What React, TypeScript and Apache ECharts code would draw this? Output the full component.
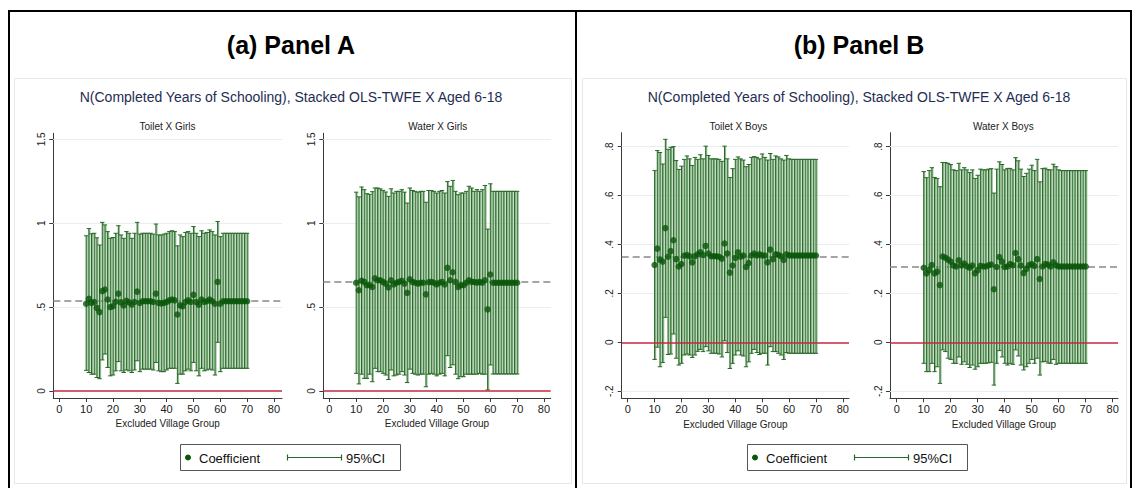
import React, { useEffect, useRef } from "react";
import * as echarts from "echarts";

// ---------------- DATA ----------------
const villageGroups = [
  10, 11, 12, 13, 14, 15, 16, 17, 18, 19, 20, 21, 22, 23, 24, 25, 26, 27, 28, 29,
  30, 31, 32, 33, 34, 35, 36, 37, 38, 39, 40, 41, 42, 43, 44, 45, 46, 47, 48, 49,
  50, 51, 52, 53, 54, 55, 56, 57, 58, 59, 60, 61, 62, 63, 64, 65, 66, 67, 68, 69, 70,
];
const xTickValues = [0, 10, 20, 30, 40, 50, 60, 70, 80];
const girlsYTicks = [0, 0.5, 1, 1.5];
const boysYTicks = [-0.2, 0, 0.2, 0.4, 0.6, 0.8];

// Panel A - Toilet X Girls
const toiletGirlsCoef = [
  0.52, 0.55, 0.525, 0.53, 0.495, 0.47, 0.595, 0.605, 0.545, 0.5, 0.505, 0.532, 0.58, 0.528, 0.51, 0.537, 0.528, 0.515, 0.53, 0.592,
  0.524, 0.535, 0.535, 0.535, 0.535, 0.53, 0.58, 0.525, 0.522, 0.525, 0.53, 0.54, 0.545, 0.54, 0.456, 0.51, 0.505, 0.53, 0.54, 0.53,
  0.573, 0.53, 0.515, 0.545, 0.53, 0.535, 0.545, 0.535, 0.52, 0.65, 0.52, 0.535, 0.535, 0.535, 0.535, 0.535, 0.535, 0.535, 0.535, 0.535, 0.535,
];
const toiletGirlsUpper = [
  0.925, 0.968, 0.937, 0.94, 0.913, 0.87, 1.005, 0.99, 0.95, 0.91, 0.915, 0.94, 0.985, 0.93, 0.91, 0.95, 0.94, 0.91, 0.94, 1.005,
  0.935, 0.94, 0.94, 0.94, 0.94, 0.935, 0.995, 0.93, 0.93, 0.935, 0.94, 0.95, 0.955, 0.95, 0.865, 0.93, 0.92, 0.945, 0.95, 0.94,
  0.98, 0.94, 0.92, 0.955, 0.94, 0.945, 0.96, 0.95, 0.93, 1.01, 0.92, 0.94, 0.94, 0.94, 0.94, 0.94, 0.94, 0.94, 0.94, 0.94, 0.94,
];
const toiletGirlsLower = [
  0.123, 0.11, 0.1, 0.1, 0.08, 0.073, 0.185, 0.22, 0.14, 0.09, 0.095, 0.12, 0.175, 0.12, 0.11, 0.125, 0.12, 0.11, 0.125, 0.18,
  0.115, 0.13, 0.13, 0.13, 0.13, 0.125, 0.17, 0.12, 0.115, 0.115, 0.125, 0.135, 0.135, 0.135, 0.045, 0.1, 0.1, 0.12, 0.13, 0.12,
  0.17, 0.12, 0.09, 0.135, 0.12, 0.125, 0.13, 0.125, 0.095, 0.29, 0.115, 0.135, 0.135, 0.135, 0.135, 0.135, 0.135, 0.135, 0.135, 0.135, 0.135,
];
const toiletGirlsMean = 0.535;

// Panel A - Water X Girls
const waterGirlsCoef = [
  0.645, 0.6, 0.657, 0.65, 0.63, 0.63, 0.62, 0.672, 0.66, 0.66, 0.65, 0.64, 0.617, 0.66, 0.635, 0.645, 0.65, 0.657, 0.64, 0.585,
  0.666, 0.65, 0.645, 0.64, 0.645, 0.645, 0.576, 0.648, 0.65, 0.645, 0.635, 0.645, 0.65, 0.635, 0.734, 0.66, 0.708, 0.65, 0.62, 0.63,
  0.63, 0.645, 0.66, 0.65, 0.65, 0.645, 0.65, 0.645, 0.66, 0.486, 0.694, 0.645, 0.645, 0.645, 0.645, 0.645, 0.645, 0.645, 0.645, 0.645, 0.645,
];
const waterGirlsUpper = [
  1.185, 1.157, 1.216, 1.2, 1.176, 1.172, 1.188, 1.21, 1.21, 1.205, 1.196, 1.186, 1.16, 1.205, 1.18, 1.19, 1.19, 1.2, 1.185, 1.12,
  1.21, 1.195, 1.19, 1.185, 1.19, 1.19, 1.125, 1.195, 1.195, 1.19, 1.18, 1.19, 1.195, 1.18, 1.248, 1.22, 1.255, 1.19, 1.17, 1.18,
  1.18, 1.19, 1.22, 1.21, 1.19, 1.2, 1.19, 1.2, 1.225, 0.965, 1.235, 1.19, 1.19, 1.19, 1.19, 1.19, 1.19, 1.19, 1.19, 1.19, 1.19,
];
const waterGirlsLower = [
  0.105, 0.042, 0.1, 0.075, 0.075, 0.1, 0.055, 0.135, 0.115, 0.115, 0.105, 0.095, 0.068, 0.125, 0.09, 0.095, 0.1, 0.115, 0.095, 0.05,
  0.13, 0.105, 0.1, 0.095, 0.1, 0.1, 0.025, 0.1, 0.105, 0.1, 0.09, 0.1, 0.105, 0.09, 0.21, 0.14, 0.156, 0.1, 0.073, 0.085,
  0.085, 0.1, 0.1, 0.1, 0.1, 0.1, 0.105, 0.1, 0.1, 0.006, 0.155, 0.101, 0.101, 0.101, 0.101, 0.101, 0.101, 0.101, 0.101, 0.101, 0.101,
];
const waterGirlsMean = 0.645;

// Panel B - Toilet X Boys
const toiletBoysCoef = [
  0.316, 0.383, 0.338, 0.33, 0.467, 0.35, 0.373, 0.417, 0.34, 0.31, 0.32, 0.354, 0.357, 0.352, 0.327, 0.352, 0.36, 0.368, 0.357, 0.394,
  0.363, 0.352, 0.352, 0.352, 0.35, 0.342, 0.404, 0.363, 0.285, 0.314, 0.345, 0.368, 0.35, 0.355, 0.308, 0.324, 0.355, 0.363, 0.355, 0.36,
  0.355, 0.355, 0.327, 0.379, 0.34, 0.36, 0.358, 0.352, 0.337, 0.36, 0.355, 0.355, 0.355, 0.355, 0.355, 0.355, 0.355, 0.355, 0.355, 0.355, 0.355,
];
const toiletBoysUpper = [
  0.702, 0.784, 0.776, 0.729, 0.83, 0.789, 0.797, 0.8, 0.743, 0.707, 0.72, 0.748, 0.762, 0.75, 0.723, 0.756, 0.748, 0.767, 0.75, 0.802,
  0.764, 0.75, 0.75, 0.75, 0.748, 0.74, 0.802, 0.75, 0.674, 0.71, 0.748, 0.758, 0.75, 0.745, 0.718, 0.727, 0.756, 0.759, 0.756, 0.75,
  0.77, 0.756, 0.745, 0.772, 0.748, 0.762, 0.758, 0.75, 0.745, 0.764, 0.75, 0.748, 0.748, 0.748, 0.748, 0.748, 0.748, 0.748, 0.748, 0.748, 0.748,
];
const toiletBoysLower = [
  -0.07, -0.02, -0.1, -0.083, 0.102, -0.05, -0.048, 0.034, -0.065, -0.093, -0.086, -0.052, -0.048, -0.052, -0.062, -0.052, -0.037, -0.029, -0.038, -0.018,
  -0.035, -0.045, -0.045, -0.045, -0.048, -0.06, 0.006, -0.042, -0.107, -0.086, -0.052, -0.035, -0.052, -0.056, -0.1, -0.08, -0.045, -0.029, -0.042, -0.05,
  -0.045, -0.045, -0.093, -0.018, -0.038, -0.038, -0.045, -0.052, -0.07, -0.042, -0.045, -0.045, -0.045, -0.045, -0.045, -0.045, -0.045, -0.045, -0.045, -0.045, -0.045,
];
const toiletBoysMean = 0.355;

// Panel B - Water X Boys
const waterBoysCoef = [
  0.305, 0.282, 0.295, 0.316, 0.282, 0.289, 0.234, 0.351, 0.346, 0.338, 0.33, 0.314, 0.31, 0.335, 0.314, 0.322, 0.311, 0.305, 0.314, 0.282,
  0.295, 0.313, 0.31, 0.31, 0.315, 0.318, 0.217, 0.308, 0.349, 0.33, 0.308, 0.31, 0.32, 0.315, 0.365, 0.34, 0.314, 0.283, 0.3, 0.315,
  0.32, 0.312, 0.34, 0.259, 0.31, 0.32, 0.318, 0.31, 0.327, 0.315, 0.31, 0.31, 0.31, 0.31, 0.31, 0.31, 0.31, 0.31, 0.31, 0.31, 0.31,
];
const waterBoysUpper = [
  0.698, 0.673, 0.702, 0.714, 0.674, 0.67, 0.636, 0.735, 0.735, 0.732, 0.727, 0.705, 0.702, 0.732, 0.705, 0.714, 0.705, 0.694, 0.705, 0.67,
  0.683, 0.708, 0.705, 0.705, 0.708, 0.71, 0.61, 0.708, 0.738, 0.727, 0.705, 0.711, 0.711, 0.705, 0.755, 0.742, 0.708, 0.678, 0.691, 0.708,
  0.724, 0.702, 0.748, 0.656, 0.71, 0.712, 0.706, 0.705, 0.728, 0.718, 0.705, 0.702, 0.702, 0.702, 0.702, 0.702, 0.702, 0.702, 0.702, 0.702, 0.702,
];
const waterBoysLower = [
  -0.086, -0.12, -0.12, -0.086, -0.12, -0.1, -0.168, -0.031, -0.038, -0.065, -0.07, -0.086, -0.086, -0.06, -0.09, -0.08, -0.09, -0.103, -0.093, -0.11,
  -0.1, -0.086, -0.086, -0.086, -0.084, -0.082, -0.175, -0.086, -0.034, -0.06, -0.086, -0.093, -0.086, -0.09, -0.031, -0.056, -0.093, -0.113, -0.1, -0.086,
  -0.07, -0.086, -0.065, -0.134, -0.08, -0.078, -0.085, -0.086, -0.07, -0.09, -0.086, -0.086, -0.086, -0.086, -0.086, -0.086, -0.086, -0.086, -0.086, -0.086, -0.086,
];
const waterBoysMean = 0.31;

const panelTitles = ["(a) Panel A", "(b) Panel B"];
const subTitle = "N(Completed Years of Schooling), Stacked OLS-TWFE X Aged 6-18";
const subplotTitles = ["Toilet X Girls", "Water X Girls", "Toilet X Boys", "Water X Boys"];
const xAxisTitle = "Excluded Village Group";
const legendLabels = ["Coefficient", "95%CI"];

// ---------------- LAYOUT / STYLE ----------------
const FONT = '"Liberation Sans", Arial, Helvetica, sans-serif';
const POINT_COLOR = "#0a560a";
const CI_LINE = "#276727";
const CI_FILL = "#8dbb8d";
const RED = "#c4283e";
const AXIS_COLOR = "#3a3a3a";
const GRID_COLOR = "#e6eef0";

const layouts = [
  { left: 53.3, top: 133.3, width: 228.7, height: 264.7, xMin: -2.24, xMax: 83.0, yMin: -0.042, yMax: 1.536 },
  { left: 323.3, top: 133.3, width: 227.4, height: 264.7, xMin: -2.24, xMax: 82.5, yMin: -0.042, yMax: 1.536 },
  { left: 621.7, top: 132.7, width: 227.3, height: 265.6, xMin: -2.23, xMax: 82.3, yMin: -0.229, yMax: 0.857 },
  { left: 890, top: 132.7, width: 228, height: 265.6, xMin: -2.48, xMax: 81.96, yMin: -0.229, yMax: 0.857 },
];
const subplotTitleX = [167.5, 437.8, 738.3, 1003.3];

const panels = [
  { coef: toiletGirlsCoef, lo: toiletGirlsLower, hi: toiletGirlsUpper, mean: toiletGirlsMean, ticks: girlsYTicks },
  { coef: waterGirlsCoef, lo: waterGirlsLower, hi: waterGirlsUpper, mean: waterGirlsMean, ticks: girlsYTicks },
  { coef: toiletBoysCoef, lo: toiletBoysLower, hi: toiletBoysUpper, mean: toiletBoysMean, ticks: boysYTicks },
  { coef: waterBoysCoef, lo: waterBoysLower, hi: waterBoysUpper, mean: waterBoysMean, ticks: boysYTicks },
];

function fmtY(v: number): string {
  if (Math.abs(v) < 1e-9) return "0";
  let s = String(+v.toFixed(2));
  s = s.replace(/^0\./, ".").replace(/^-0\./, "-.");
  return s;
}

function buildOption() {
  const grid: any[] = [];
  const xAxis: any[] = [];
  const yAxis: any[] = [];
  const series: any[] = [];

  panels.forEach((p, i) => {
    const L = layouts[i];
    grid.push({ left: L.left, top: L.top, width: L.width, height: L.height, containLabel: false });
    xAxis.push({
      gridIndex: i,
      type: "value",
      min: L.xMin,
      max: L.xMax,
      axisLine: { show: true, onZero: false, lineStyle: { color: AXIS_COLOR, width: 1 } },
      axisTick: { show: true, length: 4, customValues: xTickValues, lineStyle: { color: AXIS_COLOR } },
      axisLabel: { customValues: xTickValues, fontSize: 11, color: "#222", margin: 5, fontFamily: FONT },
      splitLine: { show: false },
      name: xAxisTitle,
      nameLocation: "middle",
      nameGap: 17,
      nameTextStyle: { fontSize: 10, color: "#222", fontFamily: FONT },
    });
    yAxis.push({
      gridIndex: i,
      type: "value",
      min: L.yMin,
      max: L.yMax,
      axisLine: { show: true, onZero: false, lineStyle: { color: AXIS_COLOR, width: 1 } },
      axisTick: { show: true, length: 4, customValues: p.ticks, lineStyle: { color: AXIS_COLOR } },
      axisLabel: {
        customValues: p.ticks,
        rotate: 90,
        fontSize: 10,
        color: "#222",
        margin: 7,
        fontFamily: FONT,
        formatter: (v: number) => fmtY(v),
      },
      splitLine: { show: false },
    });

    const gridLines = p.ticks.filter((t) => Math.abs(t) > 1e-9);
    series.push({
      type: "line",
      xAxisIndex: i,
      yAxisIndex: i,
      data: [],
      z: 1,
      silent: true,
      markLine: {
        z: 1,
        silent: true,
        symbol: ["none", "none"],
        label: { show: false },
        animation: false,
        data: [
          ...gridLines.map((t) => ({ yAxis: t, lineStyle: { color: GRID_COLOR, width: 1, type: "solid" } })),
          { yAxis: p.mean, lineStyle: { color: "#888", width: 1.5, type: [7, 4] } },
        ],
      },
    });

    series.push({
      type: "custom",
      xAxisIndex: i,
      yAxisIndex: i,
      z: 2,
      silent: true,
      data: villageGroups.map((g, k) => [g, p.lo[k], p.hi[k]]),
      encode: { x: 0, y: [1, 2] },
      renderItem: (_params: any, api: any) => {
        const x = api.value(0);
        const top = api.coord([x, api.value(2)]);
        const bot = api.coord([x, api.value(1)]);
        const cx = top[0];
        return {
          type: "group",
          children: [
            { type: "rect", shape: { x: cx, y: top[1], width: 1.6, height: bot[1] - top[1] }, style: { fill: CI_FILL } },
            { type: "line", shape: { x1: cx, y1: top[1], x2: cx, y2: bot[1] }, style: { stroke: CI_LINE, lineWidth: 1 } },
            { type: "line", shape: { x1: cx - 2.2, y1: top[1], x2: cx + 2.2, y2: top[1] }, style: { stroke: CI_LINE, lineWidth: 1 } },
            { type: "line", shape: { x1: cx - 2.2, y1: bot[1], x2: cx + 2.2, y2: bot[1] }, style: { stroke: CI_LINE, lineWidth: 1 } },
          ],
        };
      },
    });

    series.push({
      type: "scatter",
      xAxisIndex: i,
      yAxisIndex: i,
      z: 3,
      symbol: "circle",
      symbolSize: 6.5,
      itemStyle: { color: POINT_COLOR },
      data: villageGroups.map((g, k) => [g, p.coef[k]]),
      markLine: {
        z: 10,
        silent: true,
        symbol: ["none", "none"],
        label: { show: false },
        data: [{ yAxis: 0, lineStyle: { color: RED, width: 1.5, type: "solid" } }],
      },
    });
  });

  const graphic: any[] = [];
  const frame = { stroke: "#000", lineWidth: 2 };
  graphic.push({ type: "line", shape: { x1: 8, y1: 11, x2: 1132, y2: 11 }, style: frame });
  graphic.push({ type: "line", shape: { x1: 9, y1: 10, x2: 9, y2: 488 }, style: frame });
  graphic.push({ type: "line", shape: { x1: 576, y1: 10, x2: 576, y2: 488 }, style: frame });
  graphic.push({ type: "line", shape: { x1: 1131, y1: 10, x2: 1131, y2: 488 }, style: frame });
  graphic.push({ type: "rect", shape: { x: 14.5, y: 78.5, width: 557, height: 405 }, style: { fill: "none", stroke: "#e3e8eb", lineWidth: 1 } });
  graphic.push({ type: "rect", shape: { x: 582.5, y: 78.5, width: 544, height: 405 }, style: { fill: "none", stroke: "#e3e8eb", lineWidth: 1 } });

  const panelCenters = [291, 859];
  panelCenters.forEach((cx, j) => {
    graphic.push({
      type: "text",
      x: cx,
      y: 45,
      style: { text: panelTitles[j], textAlign: "center", textVerticalAlign: "middle", font: `bold 25px ${FONT}`, fill: "#000" },
    });
    graphic.push({
      type: "text",
      x: cx,
      y: 97,
      style: { text: subTitle, textAlign: "center", textVerticalAlign: "middle", font: `14px ${FONT}`, fill: "#1e2d52" },
    });
  });
  subplotTitles.forEach((t, i) => {
    graphic.push({
      type: "text",
      x: subplotTitleX[i],
      y: 126,
      style: { text: t, textAlign: "center", textVerticalAlign: "middle", font: `10px ${FONT}`, fill: "#222" },
    });
  });

  const legendOffsets = [0, 567];
  legendOffsets.forEach((dx) => {
    graphic.push({ type: "rect", shape: { x: 180.5 + dx, y: 444.5, width: 220, height: 26 }, style: { fill: "#fff", stroke: "#555", lineWidth: 1 } });
    graphic.push({ type: "circle", shape: { cx: 188 + dx, cy: 457.5, r: 3 }, style: { fill: POINT_COLOR } });
    graphic.push({
      type: "text",
      x: 199 + dx,
      y: 458,
      style: { text: legendLabels[0], textAlign: "left", textVerticalAlign: "middle", font: `13px ${FONT}`, fill: "#111" },
    });
    graphic.push({ type: "line", shape: { x1: 287 + dx, y1: 457.5, x2: 342 + dx, y2: 457.5 }, style: { stroke: CI_LINE, lineWidth: 1.2 } });
    graphic.push({ type: "line", shape: { x1: 287.5 + dx, y1: 454.5, x2: 287.5 + dx, y2: 460.5 }, style: { stroke: CI_LINE, lineWidth: 1.2 } });
    graphic.push({ type: "line", shape: { x1: 341.5 + dx, y1: 454.5, x2: 341.5 + dx, y2: 460.5 }, style: { stroke: CI_LINE, lineWidth: 1.2 } });
    graphic.push({
      type: "text",
      x: 346 + dx,
      y: 458,
      style: { text: legendLabels[1], textAlign: "left", textVerticalAlign: "middle", font: `13px ${FONT}`, fill: "#111" },
    });
  });

  return {
    animation: false,
    backgroundColor: "#fff",
    textStyle: { fontFamily: FONT },
    grid,
    xAxis,
    yAxis,
    series,
    graphic,
  };
}

export default function App() {
  const ref = useRef<HTMLDivElement>(null);
  useEffect(() => {
    if (!ref.current) return;
    const chart = echarts.init(ref.current, undefined, { renderer: "svg" });
    chart.setOption(buildOption() as any);
    return () => chart.dispose();
  }, []);
  return (
    <div
      ref={ref}
      style={{ position: "absolute", left: 0, top: 0, width: 1132, height: 488, background: "#fff" }}
    />
  );
}
